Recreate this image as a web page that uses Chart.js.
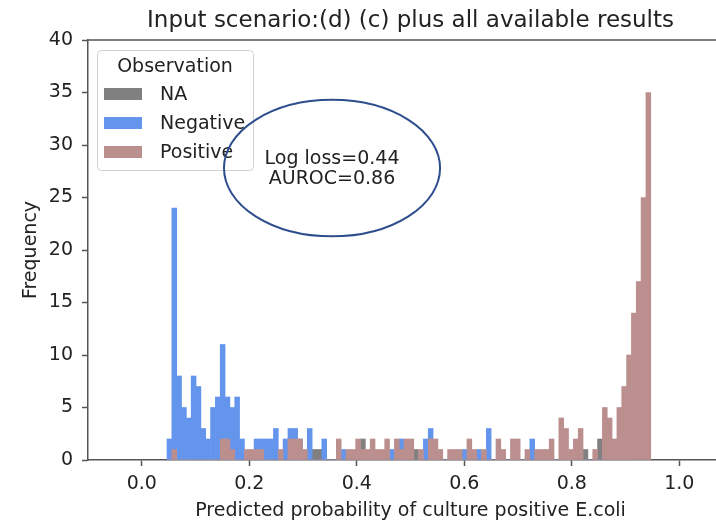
<!DOCTYPE html>
<html><head><meta charset="utf-8">
<script src="https://cdn.jsdelivr.net/npm/chart.js@4/dist/chart.umd.min.js"></script>
<style>
html,body{margin:0;padding:0;background:#fff;overflow:hidden;width:716px;height:524px}
#wrap{position:relative;width:740px;height:524px}
</style>
</head><body>
<div id="wrap"><canvas id="c" width="740" height="524"></canvas></div>
<script>
// Histogram bins (shared by all series)
const binStart = 0.047;
const binWidth = 0.009;
// Counts per bin (100 bins)
const naCounts = [
 0,0,0,0,0,0,0,0,0,0, 0,0,0,0,0,0,0,0,0,0,
 0,0,0,0,0,0,0,0,0,0, 1,1,0,0,0,0,0,0,0,0,
 2,0,0,0,0,0,0,0,0,0, 0,1,0,0,0,0,0,0,0,0,
 0,0,0,0,0,0,0,0,0,0, 0,0,0,0,0,0,0,0,0,0,
 0,0,0,0,0,0,1,0,0,2, 0,0,0,0,0,0,0,0,0,0
];
const negativeCounts = [
 2,24,8,5,4,8,7,3,2,5, 6,11,6,5,6,2,0,0,2,2,
 2,2,3,0,2,3,3,2,0,3, 0,0,2,0,0,0,1,0,0,0,
 0,0,0,0,0,0,1,0,2,0, 0,0,0,2,3,0,0,0,0,0,
 0,1,0,0,1,0,3,0,0,0, 0,0,0,0,0,2,0,0,0,0,
 0,0,0,0,0,0,0,0,0,0, 0,0,0,0,0,0,0,0,0,0
];
const positiveCounts = [
 0,1,0,0,0,0,0,0,0,0, 0,2,2,1,0,0,1,1,1,1,
 0,0,0,1,0,2,2,2,1,0, 0,0,0,0,0,2,0,1,1,2,
 1,1,2,1,1,2,0,2,1,2, 2,0,1,0,2,2,1,0,1,1,
 1,0,2,1,0,1,0,0,2,1, 0,2,2,0,1,0,1,1,1,2,
 0,4,3,1,2,3,0,0,1,0, 5,4,2,5,7,10,14,17,25,35
];
const seriesLabels = ['NA', 'Negative', 'Positive'];
const seriesColors = ['#808080', '#6495ED', '#BC8F8F'];
const xTickValues = [0.0, 0.2, 0.4, 0.6, 0.8, 1.0];
const yTickValues = [0, 5, 10, 15, 20, 25, 30, 35, 40];
const chartTitle = 'Input scenario:(d) (c) plus all available results';
const xTitle = 'Predicted probability of culture positive E.coli';
const yTitle = 'Frequency';
const legendTitle = 'Observation';
const annotationLines = ['Log loss=0.44', 'AUROC=0.86'];
// annotation ellipse in data units: center x, center y, radius x, radius y
const annotationEllipse = [0.354, 27.8, 0.201, 6.5];

const FONT = 'DejaVu Sans';
const TXT = '#222';
const AX = '#555';

const toPoints = arr => arr.map((v, i) => ({x: binStart + (i + 0.5) * binWidth, y: v}));

const overlay = {
  id: 'overlay',
  afterDraw(chart) {
    const ctx = chart.ctx, a = chart.chartArea;
    const xs = chart.scales.x, ys = chart.scales.y;
    ctx.save();
    // top and right spines
    ctx.strokeStyle = AX; ctx.lineWidth = 1.5;
    ctx.beginPath();
    ctx.moveTo(a.left, a.top); ctx.lineTo(a.right, a.top); ctx.lineTo(a.right, a.bottom);
    ctx.stroke();
    // title centred over the axes
    ctx.fillStyle = TXT;
    ctx.font = '23px "' + FONT + '"';
    ctx.textAlign = 'center'; ctx.textBaseline = 'middle';
    ctx.fillText(chartTitle, (a.left + a.right) / 2, 21);
    // annotation text
    ctx.font = '19px "' + FONT + '"';
    const cx = xs.getPixelForValue(annotationEllipse[0]);
    const cy = ys.getPixelForValue(annotationEllipse[1]);
    annotationLines.forEach((t, k) => ctx.fillText(t, cx, cy - 9 + k * 20));
    // legend
    const L = 97, T = 50, W = 156, H = 120;
    ctx.beginPath();
    ctx.roundRect(L + 0.5, T + 0.5, W, H, 4);
    ctx.fillStyle = 'rgba(255,255,255,0.85)'; ctx.fill();
    ctx.strokeStyle = '#d0d0d0'; ctx.lineWidth = 1; ctx.stroke();
    ctx.fillStyle = TXT;
    ctx.textAlign = 'center';
    ctx.fillText(legendTitle, L + W / 2, T + 17);
    ctx.textAlign = 'left';
    seriesLabels.forEach((lab, k) => {
      const yy = T + 44 + k * 29;
      ctx.fillStyle = seriesColors[k];
      ctx.fillRect(104, yy - 6, 38, 12);
      ctx.fillStyle = TXT;
      ctx.fillText(lab, 160, yy + 1);
    });
    // ellipse
    const rx = xs.getPixelForValue(annotationEllipse[0] + annotationEllipse[2]) - cx;
    const ry = cy - ys.getPixelForValue(annotationEllipse[1] + annotationEllipse[3]);
    ctx.beginPath();
    ctx.ellipse(cx, cy, rx, ry, 0, 0, Math.PI * 2);
    ctx.strokeStyle = '#2E4D8E'; ctx.lineWidth = 2; ctx.stroke();
    ctx.restore();
  }
};

new Chart(document.getElementById('c'), {
  type: 'bar',
  data: {
    datasets: [
      {label: seriesLabels[2], data: toPoints(positiveCounts), backgroundColor: seriesColors[2], order: 0},
      {label: seriesLabels[1], data: toPoints(negativeCounts), backgroundColor: seriesColors[1], order: 1},
      {label: seriesLabels[0], data: toPoints(naCounts), backgroundColor: seriesColors[0], order: 2}
    ]
  },
  options: {
    responsive: false, animation: false, devicePixelRatio: 1,
    layout: {padding: {left: 0, right: 7, top: 40, bottom: 0}},
    datasets: {bar: {barPercentage: 1, categoryPercentage: 1, grouped: false, borderWidth: 0}},
    plugins: {
      legend: {display: false}, tooltip: {enabled: false}, title: {display: false}
    },
    scales: {
      x: {
        type: 'linear', min: -0.1, max: 1.1, offset: false,
        afterBuildTicks: s => { s.ticks = xTickValues.map(v => ({value: v})); },
        afterFit: s => { s.height = 64; },
        grid: {display: true, drawOnChartArea: false, drawTicks: true, tickLength: 6, color: AX, tickWidth: 1.5, offset: false},
        border: {display: true, color: AX, width: 1.5},
        ticks: {padding: 7, color: TXT, font: {family: FONT, size: 19}, maxRotation: 0, autoSkip: false,
          callback: v => Number(v).toFixed(1)},
        title: {display: true, text: xTitle, color: TXT, font: {family: FONT, size: 19}, padding: {top: 0, bottom: 2}}
      },
      y: {
        min: 0, max: 40,
        afterBuildTicks: s => { s.ticks = yTickValues.map(v => ({value: v})); },
        afterFit: s => { s.width = 88; },
        grid: {display: true, drawOnChartArea: false, drawTicks: true, tickLength: 6, color: AX, tickWidth: 1.5},
        border: {display: true, color: AX, width: 1.5},
        ticks: {padding: 9, color: TXT, font: {family: FONT, size: 19}, autoSkip: false},
        title: {display: true, text: yTitle, color: TXT, font: {family: FONT, size: 19}, padding: {top: 20, bottom: 0}}
      }
    }
  },
  plugins: [overlay]
});
</script>
</body></html>
